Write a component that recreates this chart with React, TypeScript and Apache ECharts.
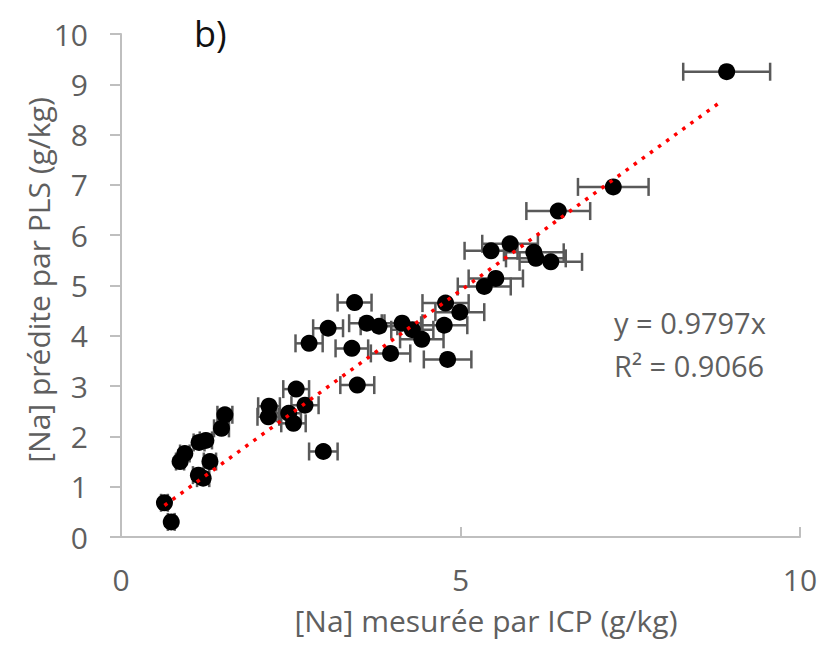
import React, { useEffect, useRef } from "react";
import * as echarts from "echarts";

const measuredICP = [
  8.92, 7.25, 6.44, 5.45, 5.73, 6.08, 6.11, 6.33, 5.52, 5.35,
  4.78, 4.99, 4.76, 4.81, 4.43, 4.29, 4.14, 3.97, 3.8, 3.62,
  3.44, 3.05, 2.77, 3.4, 3.48, 2.98, 2.58, 2.71, 2.47, 2.54,
  2.18, 2.17, 1.53, 1.48, 1.15, 1.25, 0.94, 0.87, 1.31, 1.14,
  1.21, 0.64, 0.74,
];
const predictedPLS = [
  9.25, 6.96, 6.48, 5.69, 5.83, 5.66, 5.54, 5.47, 5.14, 4.98,
  4.65, 4.47, 4.21, 3.53, 3.93, 4.12, 4.25, 3.65, 4.19, 4.25,
  4.66, 4.15, 3.85, 3.75, 3.02, 1.7, 2.94, 2.62, 2.46, 2.26,
  2.6, 2.39, 2.43, 2.16, 1.88, 1.92, 1.66, 1.5, 1.5, 1.23,
  1.17, 0.68, 0.3,
];
const icpError = [
  0.64, 0.52, 0.47, 0.39, 0.41, 0.44, 0.44, 0.46, 0.4, 0.39,
  0.34, 0.36, 0.34, 0.35, 0.32, 0.31, 0.3, 0.29, 0.27, 0.26,
  0.25, 0.22, 0.2, 0.24, 0.25, 0.21, 0.19, 0.2, 0.18, 0.18,
  0.16, 0.16, 0.11, 0.11, 0.08, 0.09, 0.07, 0.06, 0.09, 0.08,
  0.09, 0.05, 0.05,
];
const slope = 0.9797;
const trendRange = [0.64, 8.8];
const equationText = "y = 0.9797x";
const r2Text = "R² = 0.9066";
const xTitle = "[Na] mesurée par ICP (g/kg)";
const yTitle = "[Na] prédite par PLS (g/kg)";
const panelLabel = "b)";

const FONT = "'Open Sans', sans-serif";
const TXT = "#5f5f5f";

export default function App() {
  const ref = useRef<HTMLDivElement>(null);
  useEffect(() => {
    if (!ref.current) return;
    const chart = echarts.init(ref.current, null, { renderer: "svg" });
    const pts = measuredICP.map((x, i) => [x, predictedPLS[i]]);
    const errs = measuredICP.map((x, i) => [x, predictedPLS[i], icpError[i]]);
    const trend = trendRange.map((x) => [x, slope * x]);
    chart.setOption({
      animation: false,
      grid: { left: 121, right: 21, top: 34, bottom: 111 },
      xAxis: {
        type: "value",
        min: 0,
        max: 10,
        interval: 5,
        axisLine: { lineStyle: { color: "#bfbfbf", width: 2 } },
        axisTick: { show: true, inside: true, length: 10, lineStyle: { color: "#bfbfbf", width: 2 } },
        axisLabel: { color: TXT, fontSize: 30, fontFamily: FONT, margin: 27 },
        splitLine: { show: false },
      },
      yAxis: {
        type: "value",
        min: 0,
        max: 10,
        interval: 1,
        axisLine: { show: true, lineStyle: { color: "#bfbfbf", width: 2 } },
        axisTick: { show: true, length: 11, lineStyle: { color: "#bfbfbf", width: 2 } },
        axisLabel: { color: TXT, fontSize: 30, fontFamily: FONT, margin: 33 },
        splitLine: { show: false },
      },
      graphic: [
        {
          type: "text",
          left: 194,
          top: 15,
          style: { text: panelLabel, fontSize: 36, fontFamily: FONT, fill: "#111" },
        },
        {
          type: "text",
          x: 486,
          y: 620,
          style: {
            text: xTitle,
            fontSize: 30,
            fontFamily: FONT,
            fill: TXT,
            align: "center",
            verticalAlign: "middle",
          },
        },
        {
          type: "text",
          x: 38,
          y: 280,
          rotation: Math.PI / 2,
          style: {
            text: yTitle,
            fontSize: 30,
            fontFamily: FONT,
            fill: TXT,
            align: "center",
            verticalAlign: "middle",
          },
        },
        {
          type: "text",
          x: 614,
          y: 322,
          style: { text: equationText, fontSize: 29, fontFamily: FONT, fill: TXT, verticalAlign: "middle" },
        },
        {
          type: "text",
          x: 614,
          y: 365,
          style: { text: r2Text, fontSize: 29, fontFamily: FONT, fill: TXT, verticalAlign: "middle" },
        },
      ],
      series: [
        {
          type: "custom",
          z: 1,
          data: errs,
          encode: { x: 0, y: 1 },
          renderItem: (params: any, api: any) => {
            const x = api.value(0);
            const y = api.value(1);
            const e = api.value(2);
            const p1 = api.coord([x - e, y]);
            const p2 = api.coord([x + e, y]);
            const h = 9;
            const style = { stroke: "#595959", lineWidth: 2.5 };
            return {
              type: "group",
              children: [
                { type: "line", shape: { x1: p1[0], y1: p1[1], x2: p2[0], y2: p2[1] }, style },
                { type: "line", shape: { x1: p1[0], y1: p1[1] - h, x2: p1[0], y2: p1[1] + h }, style },
                { type: "line", shape: { x1: p2[0], y1: p2[1] - h, x2: p2[0], y2: p2[1] + h }, style },
              ],
            };
          },
        },
        {
          type: "scatter",
          z: 2,
          data: pts,
          symbol: "circle",
          symbolSize: 17,
          itemStyle: { color: "#000", opacity: 1 },
        },
        {
          type: "line",
          z: 3,
          data: trend,
          symbol: "none",
          lineStyle: { color: "#ff0000", width: 3.5, type: [3.5, 6.5] },
        },
      ],
    });
    return () => chart.dispose();
  }, []);
  return (
    <div
      ref={ref}
      style={{ position: "fixed", left: 0, top: 0, width: 821, height: 648, background: "#fff" }}
    />
  );
}
